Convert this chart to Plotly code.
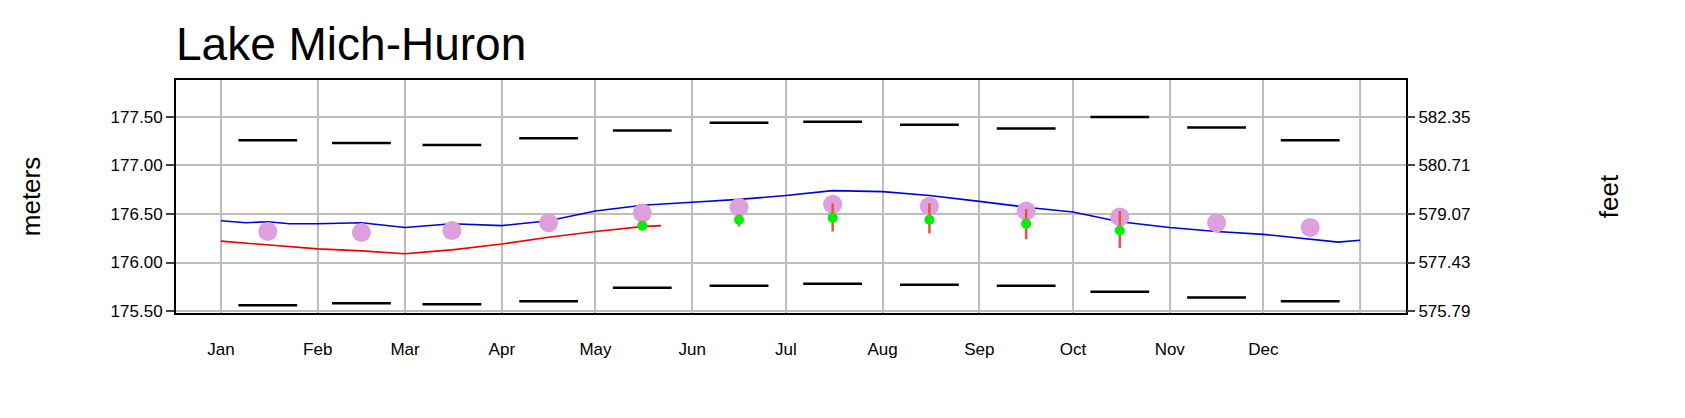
import plotly.graph_objects as go

# month starts (day of year) and tick labels
month_start = [0, 31, 59, 90, 120, 151, 181, 212, 243, 273, 304, 334]
month_labels = ['Jan', 'Feb', 'Mar', 'Apr', 'May', 'Jun', 'Jul', 'Aug', 'Sep', 'Oct', 'Nov', 'Dec']
mid_month = [15, 45, 74, 105, 135, 166, 196, 227, 258, 288, 319, 349]

# last year's daily levels (read roughly every half month)
last_days = [0, 8, 15, 22, 31, 45, 59, 66, 74, 90, 105, 120, 135, 151, 166, 181, 196, 212,
             227, 243, 258, 273, 288, 304, 319, 334, 349, 358, 365]
last_vals = [176.43, 176.41, 176.42, 176.40, 176.40, 176.41, 176.36, 176.38, 176.40, 176.38,
             176.43, 176.53, 176.59, 176.62, 176.65, 176.69, 176.74, 176.73, 176.69, 176.63,
             176.57, 176.52, 176.42, 176.36, 176.32, 176.29, 176.24, 176.21, 176.23]

# this year's levels to date
cur_days = [0, 8, 15, 31, 45, 59, 66, 74, 90, 105, 120, 135, 141]
cur_vals = [176.22, 176.20, 176.18, 176.14, 176.12, 176.09, 176.11, 176.13, 176.19, 176.26,
            176.32, 176.37, 176.38]

# long-term monthly means
lt_mean = [176.32, 176.31, 176.33, 176.41, 176.51, 176.57, 176.60, 176.58, 176.53, 176.47, 176.41, 176.36]

# forecast (May-Oct) with ranges
fc_days = [135, 166, 196, 227, 258, 288]
fc_vals = [176.38, 176.44, 176.46, 176.44, 176.40, 176.33]
fc_hi = [176.38, 176.50, 176.61, 176.61, 176.55, 176.53]
fc_lo = [176.38, 176.37, 176.32, 176.30, 176.24, 176.15]

# record max / min monthly means
rec_max = [177.26, 177.23, 177.21, 177.28, 177.36, 177.44, 177.45, 177.42, 177.38, 177.50, 177.39, 177.26]
rec_min = [175.56, 175.58, 175.57, 175.60, 175.74, 175.76, 175.78, 175.77, 175.76, 175.70, 175.64, 175.60]

m_ticks = [175.50, 176.00, 176.50, 177.00, 177.50]
ft_per_m = 3.28084
y_range = [175.48, 177.88]

fig = go.Figure()
for rec in (rec_max, rec_min):
    fig.add_trace(go.Scatter(x=mid_month, y=rec, mode='markers',
                             marker=dict(symbol='line-ew-open', size=42, color='black',
                                         line=dict(color='black', width=2.5))))
fig.add_trace(go.Scatter(x=last_days, y=last_vals, mode='lines', line=dict(color='#0000dd', width=1.6)))
fig.add_trace(go.Scatter(x=cur_days, y=cur_vals, mode='lines', line=dict(color='#ee0000', width=1.6)))
fig.add_trace(go.Scatter(x=mid_month, y=lt_mean, mode='markers',
                         marker=dict(color='#dda0dd', size=19)))
fig.add_trace(go.Scatter(
    x=fc_days, y=fc_vals, mode='markers',
    marker=dict(color='#00ee00', size=10),
    error_y=dict(type='data', symmetric=False,
                 array=[h - v for h, v in zip(fc_hi, fc_vals)],
                 arrayminus=[v - l for v, l in zip(fc_vals, fc_lo)],
                 color='#e8553e', thickness=2.5, width=0)))
# invisible trace for the feet axis
fig.add_trace(go.Scatter(x=[0], y=[m_ticks[0] * ft_per_m], yaxis='y2', mode='markers',
                         marker=dict(opacity=0), hoverinfo='skip'))

fig.update_layout(
    width=1685, height=418,
    margin=dict(l=168, r=287, t=72, b=113),
    plot_bgcolor='white', paper_bgcolor='white',
    showlegend=False,
    font=dict(family='Liberation Sans, Arial', size=17, color='black'),
    title=dict(text='Lake Mich-Huron', x=168 / 1685, xanchor='left', y=1 - 20 / 418, yanchor='top',
               font=dict(size=46)),
    xaxis=dict(range=[-14.4, 379.7], tickvals=month_start, ticktext=month_labels,
               showgrid=True, gridcolor='#bdbdbd', gridwidth=2,
               ticks='outside', ticklen=20, tickcolor='rgba(0,0,0,0)',
               showline=True, linecolor='black', linewidth=2, mirror=True, zeroline=False),
    yaxis=dict(range=y_range, tickvals=m_ticks, ticktext=[f'{v:.2f}' for v in m_ticks],
               showgrid=True, gridcolor='#bdbdbd', gridwidth=2,
               ticks='outside', ticklen=8, tickwidth=2,
               showline=True, linecolor='black', linewidth=2, mirror=True, zeroline=False,
               title=dict(text='meters', font=dict(size=26), standoff=62)),
    yaxis2=dict(overlaying='y', side='right', range=[v * ft_per_m for v in y_range],
                tickvals=[v * ft_per_m for v in m_ticks],
                ticktext=[f'{v * ft_per_m:.2f}' for v in m_ticks],
                showgrid=False, ticks='outside', ticklen=8, tickwidth=2, zeroline=False,
                title=dict(text='feet', font=dict(size=26), standoff=130)),
)
# extra gridline at year end
fig.add_vline(x=365, line=dict(color='#bdbdbd', width=2), layer='below')

fig.write_html('out.html')
